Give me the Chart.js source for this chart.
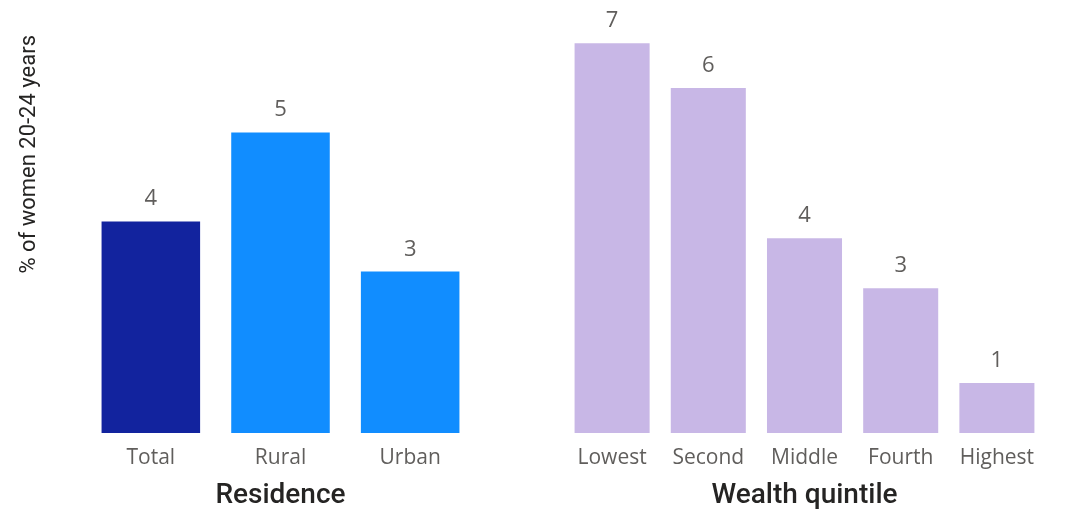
<!DOCTYPE html>
<html>
<head>
<meta charset="utf-8">
<script src="https://cdn.jsdelivr.net/npm/chart.js@4"></script>
<style>
  html, body { margin: 0; padding: 0; background: #fff; }
  #wrap { position: relative; width: 1070px; height: 513px; }
  #left { position: absolute; left: 0; top: 0; }
  #right { position: absolute; left: 475px; top: 0; }
</style>
</head>
<body>
<div id="wrap">
  <canvas id="left" width="475" height="513"></canvas>
  <canvas id="right" width="595" height="513"></canvas>
</div>
<script>
// DATA
const residenceLabels = ['Total', 'Rural', 'Urban'];
const residenceValues = [3.8, 5.4, 2.9];
const residenceColors = ['#12239E', '#118DFF', '#118DFF'];

const wealthLabels = ['Lowest', 'Second', 'Middle', 'Fourth', 'Highest'];
const wealthValues = [7.0, 6.2, 3.5, 2.6, 0.9];
const wealthColor = '#C8B7E6';

const yTitle = '% of women 20-24 years';
const yMax = 7.15;

// value labels above the bars
const valueLabels = {
  id: 'valueLabels',
  afterDatasetsDraw(chart) {
    const ctx = chart.ctx;
    const values = chart.data.datasets[0].data;
    ctx.save();
    ctx.font = '22px "Open Sans"';
    ctx.fillStyle = '#605E5C';
    ctx.textAlign = 'center';
    ctx.textBaseline = 'alphabetic';
    chart.getDatasetMeta(0).data.forEach((bar, i) => {
      ctx.fillText(Math.round(values[i]), bar.x, bar.y - 16);
    });
    ctx.restore();
  }
};

function makeChart(el, labels, values, colors, title, barPct, padding, showY) {
  return new Chart(document.getElementById(el), {
    type: 'bar',
    data: {
      labels: labels,
      datasets: [{
        data: values,
        backgroundColor: colors,
        categoryPercentage: 1,
        barPercentage: barPct
      }]
    },
    options: {
      responsive: false,
      animation: false,
      devicePixelRatio: 1,
      layout: { padding: padding },
      plugins: { legend: { display: false }, tooltip: { enabled: false } },
      scales: {
        x: {
          grid: { display: false, drawTicks: false },
          border: { display: false },
          ticks: { color: '#605E5C', padding: 12, font: { family: 'Open Sans', size: 21 } },
          title: {
            display: true,
            text: title,
            color: '#252423',
            padding: { top: 0, bottom: 0 },
            font: { family: 'Roboto', size: 28, weight: 500 }
          },
          afterFit: (scale) => { scale.height = 80; }
        },
        y: {
          display: showY,
          min: 0,
          max: yMax,
          grid: { display: false, drawTicks: false },
          border: { display: false },
          ticks: { display: false },
          title: {
            display: true,
            text: yTitle,
            align: 'end',
            color: '#252423',
            padding: { top: 16, bottom: 0 },
            font: { family: 'Roboto', size: 22 }
          },
          afterFit: (scale) => { scale.width = showY ? 86 : 0; }
        }
      }
    },
    plugins: [valueLabels]
  });
}

makeChart('left', residenceLabels, residenceValues, residenceColors, 'Residence', 0.76,
  { top: 35, left: 0, right: 0, bottom: 0 }, true);
makeChart('right', wealthLabels, wealthValues, wealthColor, 'Wealth quintile', 0.78,
  { top: 35, left: 89, right: 25, bottom: 0 }, false);
</script>
</body>
</html>
